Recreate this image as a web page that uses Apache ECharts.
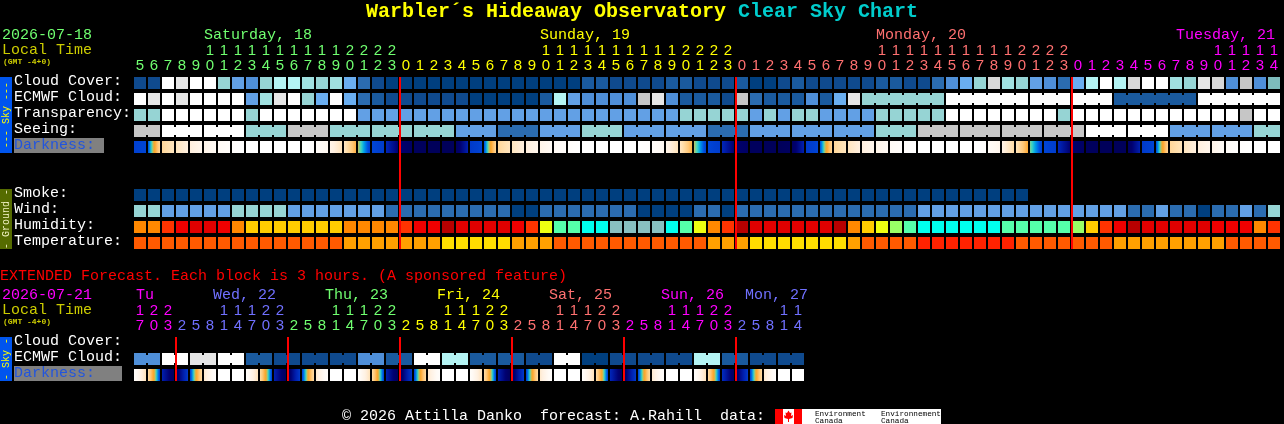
<!DOCTYPE html>
<html><head><meta charset="utf-8">
<style>html,body{margin:0;padding:0;background:#000}#c{width:1284px;height:424px}</style>
<script src="https://cdn.jsdelivr.net/npm/echarts@6/dist/echarts.min.js"></script>
</head><body><div id="c"></div>
<script>
// ---- labels ----
const rowLabels = ['Cloud Cover:','ECMWF Cloud:','Transparency:','Seeing:','Darkness:','','','Smoke:','Wind:','Humidity:','Temperature:'];
const extRowLabels = ['Cloud Cover:','ECMWF Cloud:','Darkness:'];
const hours = [5,6,7,8,9,10,11,12,13,14,15,16,17,18,19,20,21,22,23,
 0,1,2,3,4,5,6,7,8,9,10,11,12,13,14,15,16,17,18,19,20,21,22,23,
 0,1,2,3,4,5,6,7,8,9,10,11,12,13,14,15,16,17,18,19,20,21,22,23,
 0,1,2,3,4,5,6,7,8,9,10,11,12,13,14];
const extHours = [17,20,23,
 2,5,8,11,14,17,20,23, 2,5,8,11,14,17,20,23, 2,5,8,11,14,17,20,23,
 2,5,8,11,14,17,20,23, 2,5,8,11,14,17,20,23, 2,5,8,11,14];
const midnightCells = [19,43,67];
const extMidnightCells = [3,11,19,27,35,43];

// ---- colour tables (level -> colour) ----
const skyPalette = ['#003f7f','#0f4a8e','#1a5a9e','#2b6cb0','#4f8fd8','#62a0e5','#6aaef0','#7dbcbc','#96d4d4','#a0e0e0','#b4f4f4','#c6c6c6','#d8d8d8','#e6e6e6','#ffffff','#fdfdfd'];
const humidityPalette = ['#b80000','#e00000','#f00000','#ff3300','#ff8800','#ffcc00','#eeff11','#99ff66','#55ffaa','#00ffee','#88c0c0'];
const tempPalette = ['#ff2200','#ff5a00','#ffa000','#ffdd00'];
const darkStops = [[0,'#000050'],[.1,'#000070'],[.2,'#0020b0'],[.3,'#0040d0'],[.33,'#0050e0'],[.38,'#00a0e8'],[.42,'#40d8c0'],[.46,'#c0c060'],[.5,'#ffa020'],[.6,'#ffc878'],[.7,'#ffe0b0'],[.8,'#fff0e0'],[.9,'#fffaf5'],[1,'#ffffff']];

// ---- series values (levels) ----
const cloudCover = [1,1,14,13,14,14,8,5,4,8,10,10,9,8,9,6,3,1,0,0,0,0,
 0,0,0,0,0,0,0,0,0,0,2,2,1,1,1,1,2,2,1,1,1,2,0,0,1,2,1,1,1,1,
 1,2,2,1,1,3,4,6,8,12,9,8,5,4,3,6,10,14,10,12,14,14,9,8,13,12,4,11,4,7];
const ecmwfCloud = [14,13,14,13,14,14,14,14,5,9,13,14,8,6,14,6,3,2,1,1,1,1,
 1,1,0,0,0,0,0,2,10,5,4,4,4,4,11,13,4,2,2,2,1,11,3,2,2,2,4,2,6,13,
 8,8,8,8,8,8,14,14,14,14,14,14,15,15,15,14,14,14,2,2,2,2,2,2,14,14,14,14,14,14];
const ecmwfRuns = [1,1,1,1,1,1,1,1,1,1,1,1,1,1,1,1,1,1,1,1,1,1,1,1,1,1,1,1,1,1,1,1,1,1,1,1,1,1,1,1,1,1,1,1,1,1,1,1,1,1,1,1,6,6,3,3,6,6];
const transparency = [8,8,14,14,14,14,14,14,8,14,14,14,14,14,14,14,5,5,5,5,5,5,
 5,5,5,5,5,5,5,5,5,5,5,5,5,5,5,5,5,8,8,8,8,8,5,8,5,8,8,5,5,5,
 5,8,8,8,8,8,14,14,14,14,14,14,14,14,8,14,14,14,14,14,14,14,14,14,14,14,14,11,14,14];
const seeing = [11,11,14,14,14,14,14,14,8,8,8,11,11,11,8,8,8,8,8,8,8,8,8,5,5,5,3,3,3,5,5,5,8,8,8,5,5,5,5,5,5,3,3,3,5,5,5,5,5,5,5,5,5,8,8,8,11,11,11,11,11,11,11,11,11,11,11,11,14,14,14,14,14,14,5,5,5,5,5,5,8,8];
const seeingRuns = [2,3,3,3,3,3,3,3,3,3,3,3,3,3,3,3,3,3,3,3,3,3,3,3,3,3,3,2];
const smoke = [0,0,0,0,0,0,0,0,0,0,0,0,0,0,0,0,0,0,0,0,0,0,0,0,0,0,0,0,0,0,0,0,0,0,0,0,0,0,0,0,0,0,0,0,0,0,0,0,0,0,0,0,0,0,0,0,0,0,0,0,0,0,0,0];
const wind = [8,8,5,5,5,5,5,8,8,8,8,5,5,5,5,5,5,5,3,3,3,3,
 3,3,3,3,3,0,0,3,3,3,3,3,3,3,0,0,0,0,3,3,0,3,3,3,3,3,3,3,3,3,
 3,3,3,3,5,5,5,5,5,5,5,5,5,5,5,5,5,5,5,3,3,5,3,3,0,3,3,5,3,8];
const humidity = [4,4,3,2,1,1,2,4,5,5,5,5,5,5,5,4,4,4,4,3,2,2,
 0,1,1,1,1,2,3,6,8,8,9,9,10,10,10,10,9,8,6,4,3,0,1,1,1,1,1,1,0,4,
 5,6,7,8,9,9,9,9,9,9,8,8,8,8,8,7,5,3,2,0,1,1,1,1,1,2,2,2,4,3];
const temperature = [1,1,1,1,1,1,1,1,1,1,1,1,1,1,1,2,2,2,2,2,2,2,
 3,3,3,3,3,2,2,2,1,1,1,1,1,1,1,1,1,1,1,2,2,2,3,3,3,3,3,3,3,2,
 1,1,1,1,0,0,0,0,0,0,0,1,1,1,1,1,1,1,2,2,2,2,2,2,2,2,1,1,1,1];
const darkFrom = [.30,.32,.66,.73,.79,.84,.90,.95,1,1,1,1,1,.93,.84,.74,.46,.31,.22,.09,.04,.03,
 .03,.05,.28,.32,.66,.73,.79,.84,.90,.95,1,1,1,1,1,.93,.84,.74,.46,.31,.22,.09,.04,.03,.03,.05,.28,.32,.66,.73,
 .79,.84,.90,.95,1,1,1,1,1,.92,.82,.72,.44,.31,.22,.09,.04,.03,.03,.05,.28,.32,.66,.73,.79,.84,.92,.98,1,1];
const darkTo = [.31,.66,.73,.80,.86,.90,.95,1,1,1,1,1,.97,.88,.72,.54,.30,.29,.10,.06,.04,.03,
 .03,.20,.31,.65,.73,.80,.86,.90,.95,1,1,1,1,1,.97,.88,.72,.54,.30,.29,.10,.06,.04,.03,.05,.20,.31,.65,.73,.80,
 .86,.90,.95,1,1,1,1,1,.97,.86,.68,.52,.30,.29,.10,.06,.04,.03,.03,.20,.31,.65,.72,.80,.86,.92,.98,1,1,1];
const extEcmwf = [4,4,14,14,13,13,14,14,2,2,1,1,1,1,1,1,4,4,2,2,14,14,10,10,2,2,2,2,1,1,14,14,0,0,1,1,1,1,1,1,10,10,2,2,1,1,1,1];
const extEcmwfRuns = [2,2,2,2,2,2,2,2,2,2,2,2,2,2,2,2,2,2,2,2,2,2,2,2];
const extDarkFrom = [.95,.68,.2,.05,.3,.76,1,1, .95,.68,.2,.05,.3,.76,1,1, .95,.68,.2,.05,.3,.76,1,1, .95,.68,.2,.05,.3,.76,1,1, .95,.68,.22,.06,.3,.76,1,1, .95,.68,.24,.06,.3,.76,1,1];
const extDarkTo = [.72,.3,.04,.28,.68,.96,1,1, .72,.3,.04,.28,.68,.96,1,1, .72,.3,.04,.28,.68,.96,1,1, .72,.3,.04,.28,.68,.96,1,1, .72,.3,.05,.28,.68,.96,1,1, .72,.3,.05,.28,.68,.96,1,1];

// ---- text tables ----
const dayNames = ['Saturday, 18','Sunday, 19','Monday, 20','Tuesday, 21'];
const extDayNames = ['Tu','Wed, 22','Thu, 23','Fri, 24','Sat, 25','Sun, 26','Mon, 27'];

// ---- colours for day blocks ----
const GREEN='#70ff70',YELLOW='#ffff00',SALMON='#ff7070',MAGENTA='#ff00ff',PERI='#7070ff';
const MONO='"Liberation Mono","DejaVu Sans Mono",monospace';

function darkColor(t){
  for(let i=1;i<darkStops.length;i++){
    if(t<=darkStops[i][0]){
      const [t0,c0]=darkStops[i-1],[t1,c1]=darkStops[i];
      return echarts.color.lerp((t-t0)/(t1-t0),[c0,c1]);
    }
  }
  return '#ffffff';
}
function joinFlags(runs){
  const flags=[];let i=0;
  runs.forEach(len=>{for(let n=0;n<len;n++,i++)flags[i]=n<len-1;});
  return flags;
}
function levelCells(row,values,palette,flags){
  return values.map((v,i)=>({value:[i,row],color:palette[v],join:flags?!!flags[i]:false}));
}
function darkCells(row,from,to){
  return from.map((a,i)=>{
    const b=to[i],stops=[];
    for(let k=0;k<=12;k++)stops.push({offset:k/12,color:darkColor(a+(b-a)*k/12)});
    return {value:[i,row],stops};
  });
}
const mainCells=[].concat(
  levelCells(0,cloudCover,skyPalette),
  levelCells(1,ecmwfCloud,skyPalette,joinFlags(ecmwfRuns)),
  levelCells(2,transparency,skyPalette),
  levelCells(3,seeing,skyPalette,joinFlags(seeingRuns)),
  darkCells(4,darkFrom,darkTo),
  levelCells(7,smoke,skyPalette),
  levelCells(8,wind,skyPalette),
  levelCells(9,humidity,humidityPalette),
  levelCells(10,temperature,tempPalette));
const extCells=[].concat(
  levelCells(1,extEcmwf,skyPalette,joinFlags(extEcmwfRuns)),
  darkCells(2,extDarkFrom,extDarkTo));

function cellRenderer(list){
  return function(params,api){
    const d=list[params.dataIndex];
    const c=api.coord(d.value),s=api.size([1,1]);
    const w=s[0]-2,h=s[1]-4,x=c[0]-w/2,y=c[1]-h/2;
    const fill=d.stops?new echarts.graphic.LinearGradient(0,0,1,0,d.stops):d.color;
    const ch=[{type:'rect',shape:{x,y,width:w,height:h},style:{fill}}];
    if(d.join)ch.push({type:'rect',shape:{x:x+w,y:y+2,width:2,height:h-4},style:{fill}});
    return {type:'group',children:ch};
  };
}
function lineRenderer(cells,firstRow,lastRow){
  return function(params,api){
    const i=cells[params.dataIndex];
    const s=api.size([1,1]);
    const top=api.coord([i,firstRow]),bot=api.coord([i,lastRow]);
    return {type:'rect',shape:{x:top[0]-s[0]/2,y:top[1]-s[1]/2+2,width:2,height:bot[1]-top[1]+s[1]-4},style:{fill:'#ff0000'}};
  };
}
function cellColorMain(i){return i<19?GREEN:i<43?YELLOW:i<67?SALMON:MAGENTA;}
function cellColorExt(i){return i<3?MAGENTA:i<11?PERI:i<19?GREEN:i<27?YELLOW:i<35?SALMON:i<43?MAGENTA:PERI;}

function xAxisFor(grid,hrs,colorFn){
  return {gridIndex:grid,type:'category',position:'top',data:hrs.map(String),
    axisLine:{show:false},axisTick:{show:false},splitLine:{show:false},
    axisLabel:{show:true,interval:0,margin:2,lineHeight:15,
      fontFamily:'"Liberation Sans",sans-serif',fontSize:15,
      color:(v,i)=>colorFn(i),
      formatter:(v)=>v.length>1?v[0]+'\n'+v[1]:'\n'+v}};
}
function yAxisFor(grid,labels,darkWidth){
  return {gridIndex:grid,type:'category',inverse:true,data:labels,
    axisLine:{show:false},axisTick:{show:false},splitLine:{show:false},
    axisLabel:{show:true,interval:0,align:'left',margin:119,padding:[0,0,3,0],fontFamily:MONO,fontSize:15,color:'#ffffff',
      formatter:v=>v==='Darkness:'?'{d|Darkness:}':v,
      rich:{d:{backgroundColor:'#808080',color:'#2255dd',fontFamily:MONO,fontSize:15,width:darkWidth,height:15,lineHeight:15}}}};
}
function txt(text,x,y,fill,font){
  return {type:'text',silent:true,x,y,style:{text,fill,font:font||('15px '+MONO),textVerticalAlign:'middle',textAlign:'left'}};
}
function vtxt(text,cx,cy,fill){
  return {type:'text',silent:true,x:cx,y:cy,rotation:Math.PI/2,style:{text,fill,font:'10px '+MONO,textAlign:'center',textVerticalAlign:'middle'}};
}
function rect(x,y,w,h,fill){return {type:'rect',silent:true,shape:{x,y,width:w,height:h},style:{fill}};}

const gfx=[
  txt('2026-07-18',2,35,GREEN), txt('Local Time',2,50,'#cccc00'), txt('(GMT -4+0)',3,62,'#cccc00','bold 8px '+MONO),
  txt(dayNames[0],204,35,GREEN), txt(dayNames[1],540,35,YELLOW), txt(dayNames[2],876,35,SALMON), txt(dayNames[3],1176,35,MAGENTA),
  rect(0,77,12,76,'#0055ee'), vtxt('--- Sky ---',6,115,'#ffff00'),
  rect(0,189,12,60,'#556b00'), vtxt('- Ground -',6,219,'#f0f0c0'),
  txt('EXTENDED Forecast. Each block is 3 hours. (A sponsored feature)',0,276,'#ff0000'),
  txt('2026-07-21',2,295,MAGENTA), txt('Local Time',2,310,'#cccc00'), txt('(GMT -4+0)',3,322,'#cccc00','bold 8px '+MONO),
  txt(extDayNames[0],136,295,MAGENTA), txt(extDayNames[1],213,295,PERI), txt(extDayNames[2],325,295,GREEN),
  txt(extDayNames[3],437,295,YELLOW), txt(extDayNames[4],549,295,SALMON), txt(extDayNames[5],661,295,MAGENTA), txt(extDayNames[6],745,295,PERI),
  rect(0,337,12,44,'#0055ee'), vtxt('- Sky -',6,359,'#ffff00'),
  txt('© 2026 Attilla Danko  forecast: A.Rahill  data:',342,416,'#ffffff'),
  rect(775,409,166,15,'#ffffff'), rect(775,409,8,15,'#ff0000'), rect(794,409,8,15,'#ff0000'),
  {type:'polygon',silent:true,shape:{points:[[788.5,410.5],[790,413],[791.5,412.5],[791,416],[793,415],[792.5,418],[789,419],[789,422],[788,422],[788,419],[784.5,418],[784,415],[786,416],[785.5,412.5],[787,413]]},style:{fill:'#ff0000'}},
  txt('Environment',815,414,'#000000','7.7px '+MONO), txt('Canada',815,421,'#000000','7.7px '+MONO),
  txt('Environnement',881,414,'#000000','7.7px '+MONO), txt('Canada',881,421,'#000000','7.7px '+MONO)
];

const chart=echarts.init(document.getElementById('c'),null,{renderer:'canvas',width:1284,height:424});
chart.setOption({
  animation:false,backgroundColor:'#000000',
  title:{left:366,top:0,padding:0,text:'{a|Warbler´s Hideaway Observatory }{b|Clear Sky Chart}',
    textStyle:{rich:{a:{color:'#ffff00',fontFamily:MONO,fontWeight:'bold',fontSize:20,lineHeight:24},
      b:{color:'#00cccc',fontFamily:MONO,fontWeight:'bold',fontSize:20,lineHeight:24}}}},
  grid:[{left:133,top:75,width:1148,height:176},{left:133,top:335,width:672,height:48}],
  xAxis:[xAxisFor(0,hours,cellColorMain),xAxisFor(1,extHours,cellColorExt)],
  yAxis:[yAxisFor(0,rowLabels,90),yAxisFor(1,extRowLabels,108)],
  graphic:gfx,
  series:[
    {type:'custom',xAxisIndex:0,yAxisIndex:0,silent:true,clip:false,data:mainCells.map(d=>d.value),renderItem:cellRenderer(mainCells),z:2},
    {type:'custom',xAxisIndex:1,yAxisIndex:1,silent:true,clip:false,data:extCells.map(d=>d.value),renderItem:cellRenderer(extCells),z:2},
    {type:'custom',xAxisIndex:0,yAxisIndex:0,silent:true,clip:false,data:midnightCells.map(i=>[i,0]),renderItem:lineRenderer(midnightCells,0,10),z:3},
    {type:'custom',xAxisIndex:1,yAxisIndex:1,silent:true,clip:false,data:extMidnightCells.map(i=>[i,0]),renderItem:lineRenderer(extMidnightCells,0,2),z:3}
  ]
});
</script></body></html>
